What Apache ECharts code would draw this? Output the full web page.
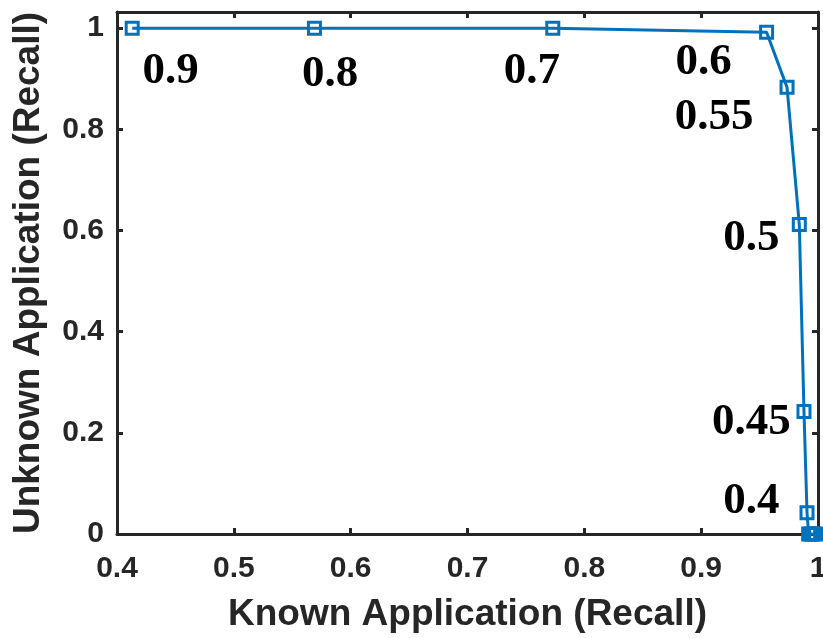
<!DOCTYPE html>
<html>
<head>
<meta charset="utf-8">
<script src="https://cdn.jsdelivr.net/npm/echarts@6/dist/echarts.min.js"></script>
<style>html,body{margin:0;padding:0;background:#fff}#c{width:823px;height:638px}</style>
</head>
<body>
<div id="c"></div>
<script>
// Curve points (Known recall, Unknown recall)
const knownRecall   = [0.413, 0.569, 0.773, 0.956, 0.9735, 0.984, 0.988, 0.9906, 0.992, 0.994, 0.996, 0.998];
const unknownRecall = [1, 1, 1, 0.992, 0.883, 0.612, 0.242, 0.042, 0, 0, 0, 0];
// Threshold annotations
const thresholdText = ['0.9', '0.8', '0.7', '0.6', '0.55', '0.5', '0.45', '0.4'];
const thresholdX    = [0.446, 0.5825, 0.755, 0.902, 0.911, 0.943, 0.943, 0.943];
const thresholdY    = [0.915, 0.909, 0.915, 0.932, 0.823, 0.585, 0.220, 0.064];
// Ticks
const xTicks = [0.4, 0.5, 0.6, 0.7, 0.8, 0.9, 1];
const yTicks = [0, 0.2, 0.4, 0.6, 0.8, 1];
const xTickLabels = ['0.4', '0.5', '0.6', '0.7', '0.8', '0.9', '1'];
const yTickLabels = ['0', '0.2', '0.4', '0.6', '0.8', '1'];

const axisColor = '#262626';
const sans = '"Liberation Sans", Arial, sans-serif';
const serif = '"Liberation Serif", "Times New Roman", serif';

const lineStyle = {color: axisColor, width: 3};
const tickStyle = {show: true, inside: true, length: 6, lineStyle: {color: axisColor, width: 3}};

function fmt(list, labels) {
  return v => { const i = list.findIndex(t => Math.abs(t - v) < 1e-9); return i >= 0 ? labels[i] : ''; };
}

const chart = echarts.init(document.getElementById('c'), null, {renderer: 'canvas'});
chart.setOption({
  animation: false,
  backgroundColor: '#fff',
  grid: {left: 117, right: 5, top: 12, bottom: 104, containLabel: false, outerBoundsMode: 'none'},
  xAxis: [{
    type: 'value', min: 0.4, max: 1, position: 'bottom',
    axisLine: {show: true, onZero: false, lineStyle},
    axisTick: Object.assign({customValues: xTicks}, tickStyle),
    splitLine: {show: false},
    axisLabel: {customValues: xTicks, formatter: fmt(xTicks, xTickLabels), color: axisColor,
      fontFamily: sans, fontWeight: 'bold', fontSize: 30, margin: 20, hideOverlap: false},
    name: 'Known Application (Recall)', nameLocation: 'middle', nameGap: 62,
    nameTextStyle: {color: axisColor, fontFamily: sans, fontWeight: 'bold', fontSize: 37}
  }, {
    type: 'value', min: 0.4, max: 1, position: 'top',
    axisLine: {show: true, onZero: false, lineStyle},
    axisTick: Object.assign({customValues: xTicks}, tickStyle),
    splitLine: {show: false}, axisLabel: {show: false}
  }],
  yAxis: [{
    type: 'value', min: 0, max: 1.032, position: 'left',
    axisLine: {show: true, onZero: false, lineStyle},
    axisTick: Object.assign({customValues: yTicks}, tickStyle),
    splitLine: {show: false},
    axisLabel: {customValues: yTicks, formatter: fmt(yTicks, yTickLabels), color: axisColor,
      fontFamily: sans, fontWeight: 'bold', fontSize: 30, margin: 13, hideOverlap: false},
    name: 'Unknown Application (Recall)', nameLocation: 'middle', nameGap: 70,
    nameTextStyle: {color: axisColor, fontFamily: sans, fontWeight: 'bold', fontSize: 37}
  }, {
    type: 'value', min: 0, max: 1.032, position: 'right',
    axisLine: {show: true, onZero: false, lineStyle},
    axisTick: Object.assign({customValues: yTicks}, tickStyle),
    splitLine: {show: false}, axisLabel: {show: false}
  }],
  series: [{
    type: 'line',
    data: knownRecall.map((x, i) => [x, unknownRecall[i]]),
    symbol: 'rect', symbolSize: 12, showAllSymbol: true,
    clip: false,
    lineStyle: {color: '#0072BD', width: 3},
    itemStyle: {color: 'rgba(255,255,255,0)', borderColor: '#0072BD', borderWidth: 3},
    z: 3
  }, {
    type: 'scatter',
    data: thresholdX.map((x, i) => ({value: [x, thresholdY[i]], name: thresholdText[i]})),
    symbol: 'circle', symbolSize: 1,
    itemStyle: {color: '#000', opacity: 0},
    label: {show: true, position: 'inside', formatter: p => p.name, opacity: 1,
      fontFamily: serif, fontWeight: 'bold', fontSize: 45, color: '#000',
      textBorderWidth: 0, textBorderColor: 'transparent'},
    emphasis: {disabled: true},
    labelLayout: {hideOverlap: false},
    z: 4
  }]
});
</script>
</body>
</html>
